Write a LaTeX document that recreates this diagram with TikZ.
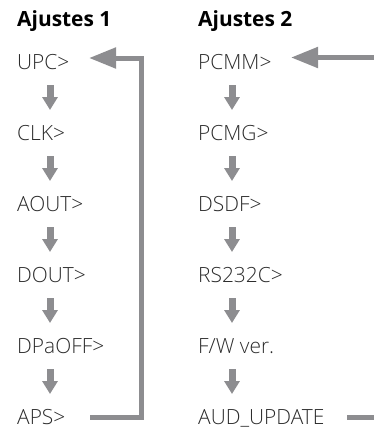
\documentclass[tikz,border=0pt]{standalone}
\usepackage{fontspec}
\setmainfont{Open Sans}[UprightFont={* Light},BoldFont={* Bold}]
\usetikzlibrary{arrows.meta}
\definecolor{arrgray}{HTML}{8D8D90}
\definecolor{txt}{HTML}{2B2B2B}
\tikzset{
  item/.style={anchor=base west, inner sep=0pt, text=txt, font=\fontsize{21}{23}\selectfont},
  head/.style={anchor=base west, inner sep=0pt, text=black, font=\bfseries\fontsize{21}{23}\selectfont},
  downarr/.style={draw=arrgray, line width=7bp, -{Triangle[width=15bp,length=13bp]}},
  looparr/.style={draw=arrgray, line width=5bp, line join=miter, -{Triangle[width=20bp,length=27bp]}},
  plainline/.style={draw=arrgray, line width=5bp}
}
\begin{document}
\begin{tikzpicture}[x=1bp,y=-1bp]
\useasboundingbox (0,0) rectangle (374,429);
\node[head] (h1) at (17,26.5) {Ajustes 1};
\node[head] (h2) at (198,26.5) {Ajustes 2};
% left column
\node[item] (upc) at (17,69) {UPC>};
\node[item] (clk) at (17,140) {CLK>};
\node[item] (aout) at (17,211) {AOUT>};
\node[item] (dout) at (17,282) {DOUT>};
\node[item] (dpa) at (17,353) {DPaOFF>};
\node[item] (aps) at (17,424) {APS>};
% right column
\node[item] (pcmm) at (198,69) {PCMM>};
\node[item] (pcmg) at (198,140) {PCMG>};
\node[item] (dsdf) at (198,211) {DSDF>};
\node[item] (rs) at (198,282) {RS232C>};
\node[item] (fw) at (198,353) {F/W ver.};
\node[item] (aud) at (198,424) {AUD\_UPDATE};
% down arrows
\foreach \a in {upc,clk,aout,dout,dpa}{
  \draw[downarr] ([shift={(33,16)}]\a.base west) -- ++(0,25);
}
\foreach \a in {pcmm,pcmg,dsdf,rs,fw}{
  \draw[downarr] ([shift={(34,16)}]\a.base west) -- ++(0,25);
}
% loop arrows
\coordinate (apsout) at (90,417);
\coordinate (upcin) at (89,58);
\coordinate (corner) at (141,58);
\draw[looparr] (apsout) -| (corner) -- (upcin);
\coordinate (rin) at (374,57.5);
\coordinate (pcmmin) at (291,57.5);
\draw[looparr] (rin) -- (pcmmin);
\coordinate (audout) at (347,417);
\coordinate (rout) at (374,417);
\draw[plainline] (audout) -- (rout);
\end{tikzpicture}
\end{document}
